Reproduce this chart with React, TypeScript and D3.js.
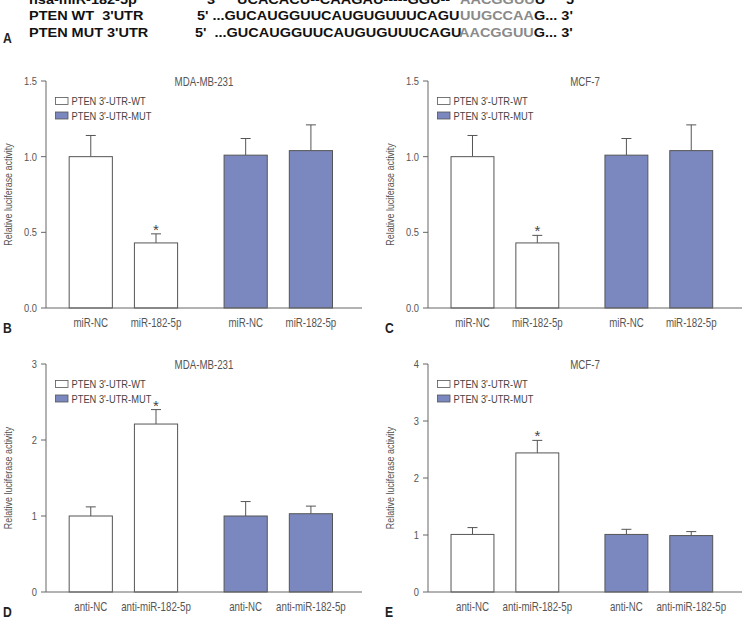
import React from "react";
import * as d3 from "d3";

const legendLabels = ["PTEN 3'-UTR-WT", "PTEN 3'-UTR-MUT"];
const miRCategories = ["miR-NC", "miR-182-5p", "miR-NC", "miR-182-5p"];
const antiCategories = ["anti-NC", "anti-miR-182-5p", "anti-NC", "anti-miR-182-5p"];

const bValues = [1.0, 0.43, 1.01, 1.04];
const bErrors = [0.14, 0.06, 0.11, 0.17];
const cValues = [1.0, 0.43, 1.01, 1.04];
const cErrors = [0.14, 0.05, 0.11, 0.17];
const dValues = [1.0, 2.21, 1.0, 1.03];
const dErrors = [0.12, 0.19, 0.19, 0.1];
const eValues = [1.01, 2.44, 1.01, 0.99];
const eErrors = [0.12, 0.22, 0.09, 0.07];

const ticks15 = [0, 0.5, 1.0, 1.5];
const ticks3 = [0, 1, 2, 3];
const ticks4 = [0, 1, 2, 3, 4];

const starIndex = 1;

const FONT = "'Liberation Sans', Arial, sans-serif";
const MUT_FILL = "#7b88bf";
const NARROW = 0.81;

type CTProps = {
  x: number;
  y: number;
  size: number;
  anchor?: "start" | "middle" | "end";
  fill?: string;
  weight?: string;
  rotate?: number;
  baseline?: string;
  children: React.ReactNode;
};

function CT({ x, y, size, anchor = "start", fill = "#555", weight = "normal", rotate = 0, baseline, children }: CTProps) {
  return (
    <text
      transform={`translate(${x},${y}) rotate(${rotate}) scale(${NARROW},1)`}
      textAnchor={anchor}
      dominantBaseline={baseline as any}
      fontSize={size}
      fill={fill}
      fontWeight={weight}
      fontFamily={FONT}
    >
      {children}
    </text>
  );
}

type PanelProps = {
  x0: number;
  width: number;
  yZero: number;
  yTop: number;
  maxY: number;
  ticks: number[];
  fmt: string;
  title: string;
  cats: string[];
  values: number[];
  errors: number[];
  letter: string;
};

function Panel(p: PanelProps) {
  const y = d3.scaleLinear().domain([0, p.maxY]).range([p.yZero, p.yTop]);
  const outer = d3
    .scaleBand<number>()
    .domain([0, 1])
    .range([p.x0, p.x0 + p.width])
    .paddingInner(0.3)
    .paddingOuter(0.17)
    .align(0.44);
  const inner = d3
    .scaleBand<number>()
    .domain([0, 1])
    .range([0, outer.bandwidth()])
    .paddingInner(0.338)
    .paddingOuter(0);
  const bw = inner.bandwidth();
  const barX = (i: number) => (outer(i < 2 ? 0 : 1) as number) + (inner(i % 2) as number);
  const f = d3.format(p.fmt);
  const titleX = p.x0 + p.width / 2;
  return (
    <g>
      <line x1={p.x0} x2={p.x0} y1={p.yTop} y2={p.yZero} stroke="#666" strokeWidth={1} />
      {p.ticks.map((t) => (
        <g key={t}>
          <line x1={p.x0 - 5} x2={p.x0} y1={y(t)} y2={y(t)} stroke="#666" strokeWidth={1} />
          <CT x={p.x0 - 9} y={y(t) + 4} size={11.5} anchor="end" fill="#555">
            {f(t)}
          </CT>
        </g>
      ))}
      <CT
        x={p.x0 - 34}
        y={(p.yTop + p.yZero) / 2}
        size={11}
        anchor="middle"
        rotate={-90}
        fill="#555"
      >
        Relative luciferase activity
      </CT>
      {p.values.map((v, i) => {
        const cx = barX(i) + bw / 2;
        const top = y(v + p.errors[i]);
        return (
          <g key={i}>
            <line x1={cx} x2={cx} y1={y(v)} y2={top} stroke="#555" strokeWidth={1} />
            <line x1={cx - 5} x2={cx + 5} y1={top} y2={top} stroke="#555" strokeWidth={1} />
            <rect
              x={barX(i)}
              y={y(v)}
              width={bw}
              height={p.yZero - y(v)}
              fill={i < 2 ? "#fff" : MUT_FILL}
              stroke="#555"
              strokeWidth={1}
            />
            {i === starIndex && (
              <text x={cx} y={top + 1} textAnchor="middle" fontSize={15} fill="#444" fontFamily={FONT}>
                *
              </text>
            )}
            <CT x={cx} y={p.yZero + 19} size={12} anchor="middle" fill="#555">
              {p.cats[i]}
            </CT>
          </g>
        );
      })}
      <line x1={p.x0} x2={p.x0 + p.width} y1={p.yZero} y2={p.yZero} stroke="#666" strokeWidth={1} />
      <CT x={titleX} y={p.yTop + 5} size={12} anchor="middle" fill="#555">
        {p.title}
      </CT>
      {legendLabels.map((l, k) => {
        const by = p.yTop + 16.5 + k * 14.5;
        return (
          <g key={l}>
            <rect
              x={p.x0 + 9.5}
              y={by}
              width={12.5}
              height={7}
              fill={k === 0 ? "#fff" : MUT_FILL}
              stroke="#555"
              strokeWidth={0.8}
            />
            <CT x={p.x0 + 25.5} y={by + 7.5} size={11.5} fill="#444">
              {l}
            </CT>
          </g>
        );
      })}
      <CT x={p.x0 - 43} y={p.yZero + 25} size={15} weight="bold" fill="#222">
        {p.letter}
      </CT>
    </g>
  );
}

const SX = 1.115;
const sx = (v: number) => v / SX;

export default function App() {
  const gray = "#8a8a8a";
  return (
    <svg width={745} height={618} style={{ position: "absolute", left: 0, top: 0, background: "#fff" }}>
      <rect width={745} height={618} fill="#fff" />
      <g
        transform={`scale(${SX},1)`}
        fontFamily={FONT}
        fontWeight="bold"
        fontSize={13}
        fill="#111"
      >
        <text x={sx(29)} y={4}>hsa-miR-182-5p</text>
        <text x={sx(207)} y={4}>3'</text>
        <text x={sx(237)} y={4} xmlSpace="preserve">
          UCACACU--CAAGAU-----GGU--
          <tspan x={sx(460)} fill={gray}>AACGGUU</tspan>
          <tspan>U</tspan>
          <tspan x={sx(566)}>5'</tspan>
        </text>

        <text x={sx(29)} y={20} xmlSpace="preserve">PTEN WT  3'UTR</text>
        <text x={sx(197)} y={20} xmlSpace="preserve">
          5' ...GUCAUGGUUCAUGUGUUUCAGU
          <tspan x={sx(460)} fill={gray}>UUGCCAA</tspan>
          <tspan>G... 3'</tspan>
        </text>

        <text x={sx(29)} y={36.7} xmlSpace="preserve">PTEN MUT 3'UTR</text>
        <text x={sx(195)} y={36.7} xmlSpace="preserve">
          5'  ...GUCAUGGUUCAUGUGUUUCAGU
          <tspan x={sx(459)} fill={gray}>AACGGUU</tspan>
          <tspan>G... 3'</tspan>
        </text>
      </g>
      <CT x={3} y={42.7} size={15} weight="bold" fill="#222">
        A
      </CT>

      <Panel x0={46} width={316} yZero={308} yTop={81} maxY={1.5} ticks={ticks15} fmt=".1f"
        title="MDA-MB-231" cats={miRCategories} values={bValues} errors={bErrors} letter="B" />
      <Panel x0={428} width={314} yZero={308} yTop={81} maxY={1.5} ticks={ticks15} fmt=".1f"
        title="MCF-7" cats={miRCategories} values={cValues} errors={cErrors} letter="C" />
      <Panel x0={46} width={316} yZero={592} yTop={364} maxY={3} ticks={ticks3} fmt="d"
        title="MDA-MB-231" cats={antiCategories} values={dValues} errors={dErrors} letter="D" />
      <Panel x0={428} width={314} yZero={592} yTop={364} maxY={4} ticks={ticks4} fmt="d"
        title="MCF-7" cats={antiCategories} values={eValues} errors={eErrors} letter="E" />
    </svg>
  );
}
